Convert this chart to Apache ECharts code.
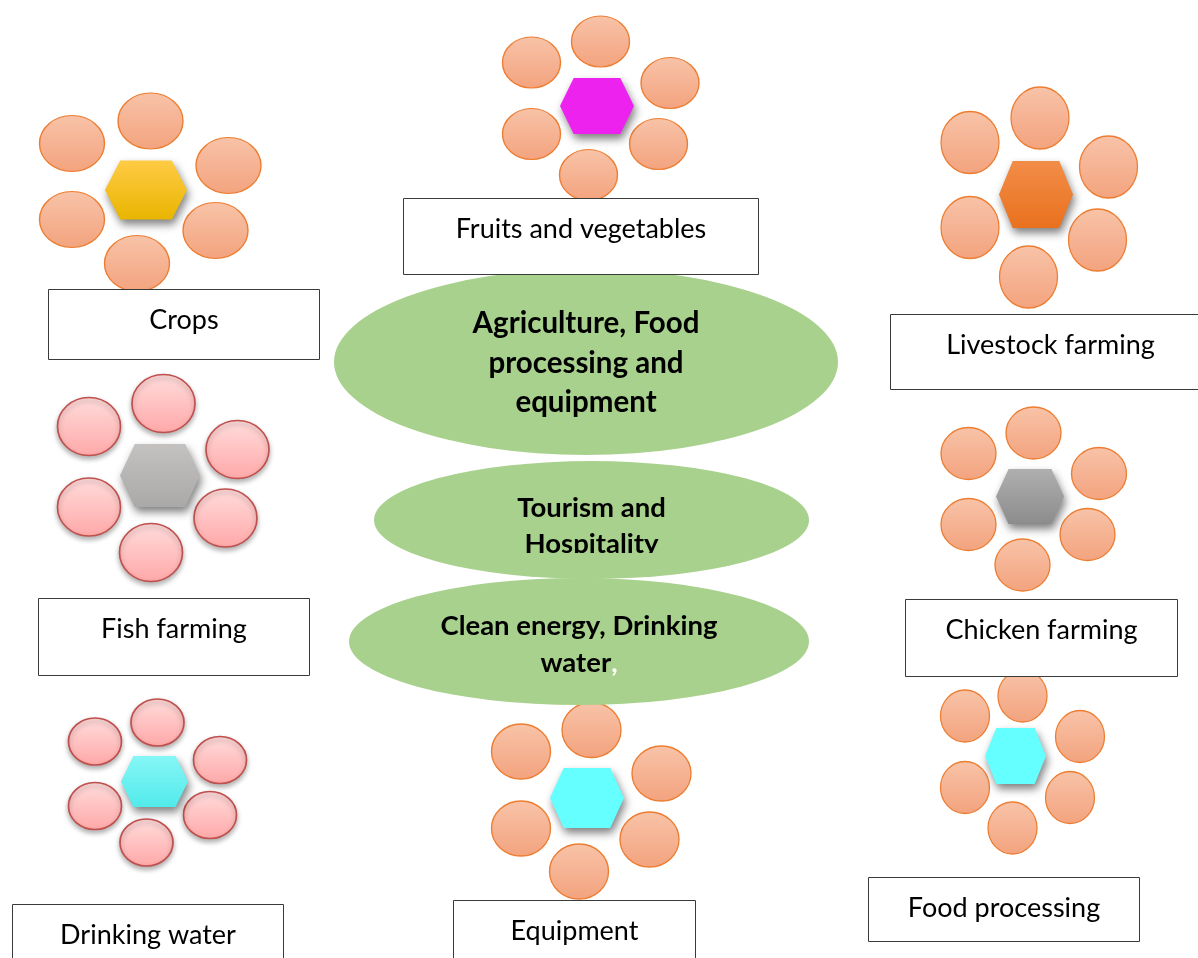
<!DOCTYPE html>
<html>
<head>
<meta charset="utf-8">
<script src="https://cdn.jsdelivr.net/npm/echarts@6/dist/echarts.min.js"></script>
<style>
  html, body { margin: 0; padding: 0; background: #fff; }
  #chart { width: 1198px; height: 958px; }
</style>
</head>
<body>
<div id="chart"></div>
<script>
// sectors, in drawing order
const clusterNames = ['Crops', 'Fruits and vegetables', 'Livestock farming', 'Fish farming',
  'Chicken farming', 'Drinking water', 'Equipment', 'Food processing'];

// hexagon centres (x, y in page pixels, y downwards)
const hexCenters = [[146, 190], [597, 106], [1036, 194.5], [160, 475.5],
  [1030, 496.5], [154.5, 781.5], [587, 798], [1015.5, 756]];

// six petals per sector: top, upper-left, upper-right, lower-left, lower-right, bottom
const petalsCrops = [[150.5, 121], [72, 143.5], [228.5, 165.5], [72, 219.5], [215.5, 230.5], [137, 263.5]];
const petalsFruits = [[600.5, 41.5], [531.5, 62.5], [670, 83], [531.5, 134], [658.5, 144], [588.5, 175]];
const petalsLivestock = [[1040, 118], [970, 142.5], [1108.5, 167], [970, 227.5], [1097.5, 240], [1028.5, 277]];
const petalsFish = [[163.5, 403.5], [89, 426.5], [237.5, 449.5], [89, 507], [225.5, 518], [151, 552.5]];
const petalsChicken = [[1033.5, 433], [968.5, 453.5], [1099, 473.5], [968.5, 524.5], [1087.5, 534.5], [1022.5, 565]];
const petalsDrinking = [[157.5, 722.5], [95, 741.5], [220, 760], [95, 806], [210, 815], [146.5, 842.5]];
const petalsEquipment = [[591.5, 730], [521, 751.5], [661.5, 773.5], [521, 828.5], [649.5, 839.5], [579, 871.5]];
const petalsFood = [[1022.5, 696], [965, 716], [1080, 736.5], [965, 787.5], [1070, 797.5], [1012.5, 828]];
const petalSets = [petalsCrops, petalsFruits, petalsLivestock, petalsFish,
  petalsChicken, petalsDrinking, petalsEquipment, petalsFood];

// label boxes (centres)
const boxCenters = [[184, 324.5], [581, 236.5], [1050.5, 352], [174, 637],
  [1041.5, 638], [148, 939.5], [574.5, 935.5], [1004, 909.5]];

// central themes
const themeLabels = ['Agriculture, Food\nprocessing and\nequipment', 'Tourism and\nHospitality',
  'Clean energy, Drinking\n{w|water}{c|,}'];
const themeCenters = [[586, 362], [591.5, 520], [579, 641.5]];
// the text frame of the second theme cuts its last line at the baseline
const themeClip = [[591.5, 562]];

// ---- sizes & styles ----
const hexSizes = [[82, 59], [74, 56], [74, 67], [80, 63], [68, 55], [67, 51], [74, 60], [61, 56]];
const petalSizes = [[65, 56], [58, 51], [58, 62], [63, 58], [55, 52], [53, 47], [59, 55], [49, 52]];
const boxSizes = [[271, 70], [355, 76], [320, 75], [271, 77], [272, 77], [271, 70], [242, 70], [271, 64]];
const themeSizes = [[504, 186], [435, 118], [460, 127]];
const themeFont = [
  { fontSize: 29.5, lineHeight: 39.5, offset: [0, 1] },
  { fontSize: 27.5, lineHeight: 36, offset: [0, 6] },
  { fontSize: 27.5, lineHeight: 37, offset: [0, 3] }
];
const pinkSets = [3, 5];

const grad = (a, b) => new echarts.graphic.LinearGradient(0, 0, 0, 1, [
  { offset: 0, color: a }, { offset: 1, color: b }
]);
const hexFills = [grad('#FFCB45', '#E9B500'), '#EE22EE', grad('#F28D48', '#E9711E'),
  grad('#C4C1C1', '#ABA8A8'), grad('#AFAFAF', '#8C8C8C'), grad('#86F6F6', '#52EAEA'),
  '#66FFFF', '#66FFFF'];

const HEX = 'path://M18.5,0 L81.5,0 L100,50 L81.5,100 L18.5,100 L0,50 Z';
const ELLIPSE = 'path://M0,50 A50,50 0 1 1 100,50 A50,50 0 1 1 0,50 Z';
const GREEN = '#A9D18E';

function petalData(pink) {
  const out = [];
  petalSets.forEach((set, i) => {
    if (pinkSets.includes(i) !== pink) return;
    set.forEach(p => out.push([p[0], p[1], petalSizes[i][0], petalSizes[i][1]]));
  });
  return out;
}

const hexData = hexCenters.map((c, i) => ({
  name: clusterNames[i],
  value: [c[0], c[1], hexSizes[i][0], hexSizes[i][1]],
  itemStyle: { color: hexFills[i] }
}));

const themeData = themeCenters.map((c, i) => ({
  value: [c[0], c[1], themeSizes[i][0], themeSizes[i][1]],
  label: {
    formatter: themeLabels[i],
    fontSize: themeFont[i].fontSize,
    lineHeight: themeFont[i].lineHeight,
    offset: themeFont[i].offset,
    rich: {
      w: { color: '#000', fontFamily: 'Lato', fontWeight: 'bold', fontSize: themeFont[i].fontSize, lineHeight: themeFont[i].lineHeight },
      c: { color: '#fff', fontFamily: 'Lato', fontWeight: 'bold', fontSize: themeFont[i].fontSize, lineHeight: themeFont[i].lineHeight }
    }
  }
}));

const boxData = boxCenters.map((c, i) => [c[0], c[1], boxSizes[i][0], boxSizes[i][1]]);

const sizeOf = v => [v[2], v[3]];

const chart = echarts.init(document.getElementById('chart'));
chart.setOption({
  animation: false,
  backgroundColor: '#fff',
  grid: { left: 0, right: 0, top: 0, bottom: 0 },
  xAxis: { type: 'value', min: 0, max: 1198, show: false },
  yAxis: { type: 'value', min: 0, max: 958, inverse: true, show: false },
  series: [
    {
      name: 'petals',
      type: 'scatter',
      z: 1,
      symbol: ELLIPSE,
      symbolSize: sizeOf,
      itemStyle: { color: grad('#F8C3A8', '#F3A37E'), borderColor: '#ED7D31', borderWidth: 1.3, opacity: 1 },
      data: petalData(false)
    },
    {
      name: 'petals-pink',
      type: 'scatter',
      z: 1,
      symbol: ELLIPSE,
      symbolSize: sizeOf,
      itemStyle: {
        color: grad('#FFDCDC', '#FFA8A8'), borderColor: '#C0504D', borderWidth: 1.6, opacity: 1,
        shadowColor: 'rgba(0,0,0,0.3)', shadowBlur: 5, shadowOffsetY: 3
      },
      data: petalData(true)
    },
    {
      name: 'hexagons',
      type: 'scatter',
      z: 2,
      symbol: HEX,
      symbolSize: sizeOf,
      itemStyle: { opacity: 1, shadowColor: 'rgba(0,0,0,0.5)', shadowBlur: 8, shadowOffsetX: 2, shadowOffsetY: 5 },
      data: hexData
    },
    {
      name: 'themes',
      type: 'scatter',
      z: 3,
      symbol: ELLIPSE,
      symbolSize: sizeOf,
      itemStyle: { color: GREEN, opacity: 1 },
      label: {
        show: true,
        position: 'inside',
        color: '#000',
        fontFamily: 'Lato',
        fontWeight: 'bold',
        align: 'center'
      },
      data: themeData
    },
    {
      name: 'theme-clip',
      type: 'scatter',
      z: 4,
      symbol: 'rect',
      symbolSize: [170, 18],
      itemStyle: { color: GREEN, opacity: 1 },
      data: themeClip
    },
    {
      name: 'boxes',
      type: 'custom',
      z: 5,
      coordinateSystem: 'cartesian2d',
      encode: { x: 0, y: 1 },
      renderItem: (params, api) => {
        const c = api.coord([api.value(0), api.value(1)]);
        const w = api.value(2), h = api.value(3);
        return {
          type: 'rect',
          shape: { x: c[0] - w / 2, y: c[1] - h / 2, width: w, height: h },
          style: { fill: '#fff', stroke: '#3a3a3a', lineWidth: 1 },
          textContent: {
            style: {
              text: clusterNames[params.dataIndex],
              fill: '#000',
              font: '27px Lato',
              align: 'center',
              verticalAlign: 'middle'
            }
          },
          textConfig: { position: ['50%', 31] }
        };
      },
      data: boxData
    }
  ]
});
</script>
</body>
</html>
